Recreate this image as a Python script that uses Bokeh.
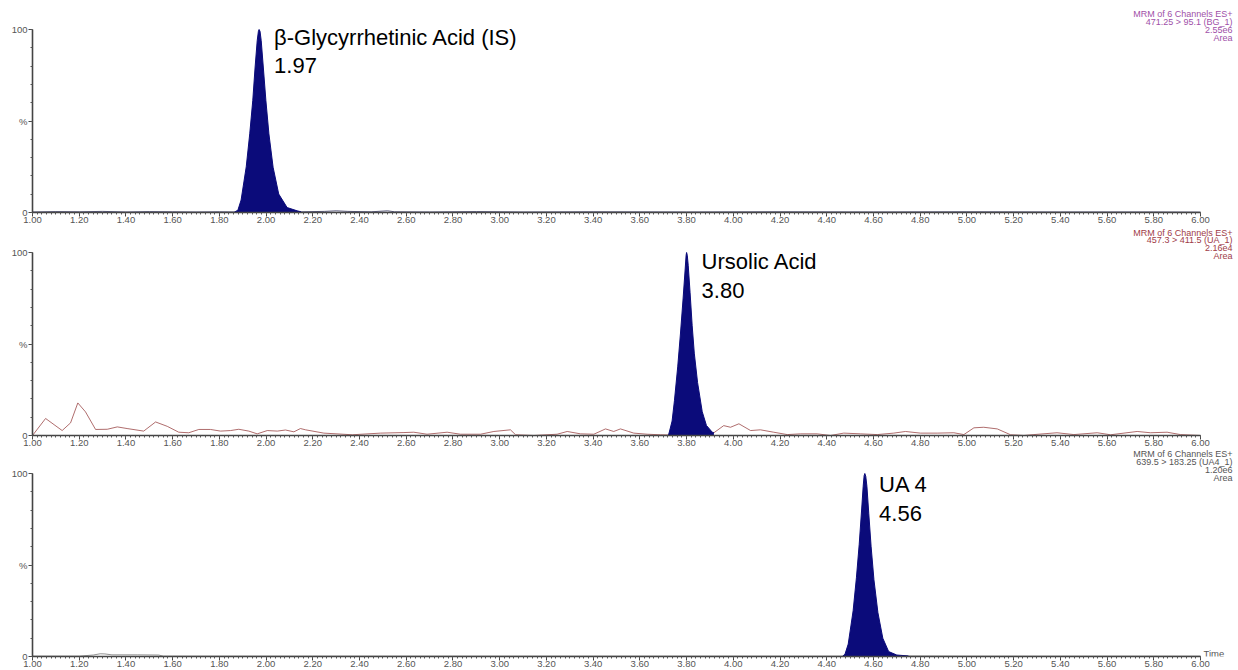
from bokeh.plotting import figure
from bokeh.layouts import column
from bokeh.models import Range1d, SingleIntervalTicker, FixedTicker, NumeralTickFormatter, Label
from bokeh.embed import file_html
from bokeh.resources import INLINE

# ---------------- data ----------------
# Panel 1: beta-Glycyrrhetinic Acid (IS), MRM 471.25 > 95.1
bg_trace_t = [1.00, 1.10, 1.20, 1.30, 1.40, 1.50, 1.60, 1.70, 1.80, 1.87, 2.15, 2.25, 2.30, 2.35, 2.45, 2.52, 2.55, 2.70, 2.90, 3.10, 3.40, 3.80, 4.20, 4.60, 5.00, 5.40, 5.80, 6.00]
bg_trace_y = [0.3, 0.5, 0.4, 0.6, 0.3, 0.5, 0.4, 0.3, 0.4, 0.3, 0.4, 0.6, 0.9, 0.6, 0.4, 0.9, 0.4, 0.3, 0.5, 0.3, 0.4, 0.3, 0.4, 0.3, 0.4, 0.3, 0.3, 0.2]
bg_peak_t = [1.865, 1.879, 1.893, 1.915, 1.930, 1.943, 1.953, 1.962, 1.967, 1.970, 1.974, 1.979, 1.988, 1.999, 2.012, 2.030, 2.054, 2.090, 2.133, 2.15]
bg_peak_y = [0.3, 1.2, 6.8, 25.0, 43.0, 61.3, 79.5, 94.0, 99.0, 100.0, 99.0, 94.0, 79.5, 61.3, 43.0, 24.7, 10.1, 2.7, 0.9, 0.4]

# Panel 2: Ursolic Acid, MRM 457.3 > 411.5
ua_trace_t = [1.00, 1.056, 1.127, 1.163, 1.194, 1.227, 1.27, 1.32, 1.363, 1.405, 1.476, 1.527, 1.577, 1.626, 1.669, 1.712, 1.762, 1.805, 1.848, 1.883, 1.926, 1.962, 2.005, 2.048, 2.083, 2.119, 2.147, 2.169, 2.247, 2.369, 2.490, 2.590, 2.632, 2.689, 2.775, 2.832, 2.918, 2.975, 3.046, 3.068, 3.146, 3.246, 3.289, 3.346, 3.403, 3.453, 3.488, 3.517, 3.574, 3.631, 3.688, 3.72, 3.917, 3.959, 3.988, 4.024, 4.074, 4.116, 4.173, 4.231, 4.288, 4.359, 4.416, 4.473, 4.545, 4.616, 4.687, 4.737, 4.801, 4.873, 4.944, 4.987, 5.030, 5.072, 5.130, 5.187, 5.244, 5.287, 5.386, 5.458, 5.558, 5.615, 5.729, 5.786, 5.857, 5.914, 6.00]
ua_trace_y = [0.0, 9.3, 2.7, 6.9, 17.8, 12.9, 3.3, 3.4, 4.7, 3.8, 2.4, 7.4, 5.0, 1.8, 1.5, 3.3, 3.3, 2.4, 2.7, 3.4, 2.4, 0.9, 2.7, 2.4, 3.0, 2.0, 3.8, 3.1, 1.3, 0.4, 1.3, 1.6, 1.8, 0.7, 1.8, 0.7, 0.7, 2.2, 3.1, 0.4, 0.0, 0.7, 2.2, 0.9, 0.7, 3.6, 2.2, 3.6, 1.3, 0.7, 0.4, 0.3, 1.5, 5.4, 4.5, 6.4, 2.7, 3.1, 1.8, 0.5, 0.9, 0.9, 0.0, 1.3, 0.9, 0.5, 1.3, 2.2, 1.3, 1.3, 1.5, 0.5, 4.2, 4.5, 3.6, 0.4, 0.0, 0.5, 1.5, 0.5, 1.5, 0.4, 2.2, 1.5, 1.8, 0.5, 0.0]
ua_peak_t = [3.72, 3.724, 3.738, 3.748, 3.762, 3.774, 3.785, 3.794, 3.798, 3.80, 3.803, 3.807, 3.815, 3.824, 3.833, 3.847, 3.867, 3.885, 3.91, 3.917]
ua_peak_y = [0.3, 0.8, 7.9, 19.0, 37.5, 56.0, 74.6, 91.0, 98.5, 100.0, 98.5, 93.0, 78.0, 60.0, 45.0, 29.0, 13.0, 5.5, 1.8, 1.5]

# Panel 3: UA 4, MRM 639.5 > 183.25
ua4_trace_t = [1.00, 1.20, 1.26, 1.29, 1.31, 1.34, 1.45, 1.54, 1.56, 1.80, 2.20, 2.60, 3.00, 3.40, 3.80, 4.20, 4.47, 4.75, 5.00, 5.40, 5.80, 6.00]
ua4_trace_y = [0.2, 0.2, 0.8, 1.5, 1.4, 0.9, 0.9, 0.8, 0.2, 0.2, 0.2, 0.2, 0.2, 0.2, 0.2, 0.2, 0.2, 0.3, 0.2, 0.2, 0.2, 0.2]
ua4_peak_t = [4.468, 4.478, 4.492, 4.513, 4.527, 4.539, 4.549, 4.556, 4.560, 4.563, 4.567, 4.572, 4.580, 4.590, 4.602, 4.619, 4.640, 4.665, 4.700, 4.75]
ua4_peak_y = [0.2, 1.2, 6.8, 25.0, 43.0, 61.3, 79.5, 93.0, 98.8, 100.0, 98.5, 93.0, 78.0, 60.0, 42.0, 24.0, 10.0, 2.7, 0.8, 0.3]

compound_names = ["β-Glycyrrhetinic Acid (IS)", "Ursolic Acid", "UA 4"]
retention_times = ["1.97", "3.80", "4.56"]
apex_times = [1.97, 3.80, 4.56]
channel_info = [
    ["MRM of 6 Channels ES+", "471.25 > 95.1 (BG_1)", "2.55e6", "Area"],
    ["MRM of 6 Channels ES+", "457.3 > 411.5 (UA_1)", "2.16e4", "Area"],
    ["MRM of 6 Channels ES+", "639.5 > 183.25 (UA4_1)", "1.20e6", "Area"],
]

# ---------------- styling ----------------
FONT = "Liberation Sans"
PEAK_COLOR = "#0b0b7a"
trace_colors = ["#2a2a55", "#9a4848", "#777777"]
info_colors = ["#a050a8", "#a03c48", "#555555"]
frame_heights = [212, 210, 208]     # frame top sits at the figure's top edge
PX_PER_UNIT_Y = 1.83                # 183 px for 100 %
PX_PER_UNIT_X = 233.6               # 1168 px for 5 min
X_END = 6.0 + 38 / PX_PER_UNIT_X    # frame reaches the window's right edge
info_y = [[108.7, 104.2, 99.8, 95.4], [110.9, 106.6, 102.3, 98.0], [110.9, 106.3, 102.0, 97.6]]
name_y = [[95.6, 80.3], [95.0, 79.2], [94.0, 78.1]]

traces = [(bg_trace_t, bg_trace_y), (ua_trace_t, ua_trace_y), (ua4_trace_t, ua4_trace_y)]
peaks = [(bg_peak_t, bg_peak_y), (ua_peak_t, ua_peak_y), (ua4_peak_t, ua4_peak_y)]

panels = []
for i in range(3):
    fh = frame_heights[i]
    p = figure(frame_width=1206, frame_height=fh,
               x_range=Range1d(1.0, X_END), y_range=Range1d(0, fh / PX_PER_UNIT_Y),
               output_backend="svg", toolbar_location=None,
               min_border_left=32, min_border_right=0,
               min_border_top=0, min_border_bottom=0)
    p.grid.visible = False
    p.outline_line_color = None
    p.background_fill_color = "white"
    p.border_fill_color = "white"

    tt, ty = traces[i]
    p.line(x=tt, y=ty, line_color=trace_colors[i], line_width=0.8)
    pt, py = peaks[i]
    p.varea(x=pt, y1=0, y2=py, fill_color=PEAK_COLOR)
    p.line(x=pt, y=py, line_color=PEAK_COLOR, line_width=1)

    # axes
    xa = p.xaxis[0]
    xa.ticker = SingleIntervalTicker(interval=0.2, num_minor_ticks=10)
    xa.formatter = NumeralTickFormatter(format="0.00")
    xa.bounds = (1.0, 6.0)
    ya = p.yaxis[0]
    ya.ticker = FixedTicker(ticks=[0, 50, 100], minor_ticks=[0, 10, 20, 30, 40, 50, 60, 70, 80, 90, 100])
    ya.major_label_overrides = {50: "%"}
    ya.bounds = (0, 100)
    for ax in (xa, ya):
        ax.axis_line_color = "#444444"
        ax.axis_line_width = 1.6
        ax.major_tick_line_color = "#444444"
        ax.minor_tick_line_color = "#555555"
        ax.major_tick_in = 0
        ax.minor_tick_in = 0
        ax.major_tick_out = 4
        ax.minor_tick_out = 2
        ax.major_label_text_font = FONT
        ax.major_label_text_font_size = "9.5px"
        ax.major_label_text_color = "#555555"
    xa.major_label_standoff = 0
    ya.major_label_standoff = 1

    # compound label
    p.add_layout(Label(x=apex_times[i], y=name_y[i][0], x_offset=15, text=compound_names[i],
                       text_font=FONT, text_font_size="22px", text_color="black",
                       text_baseline="middle", text_align="left"))
    p.add_layout(Label(x=apex_times[i], y=name_y[i][1], x_offset=15, text=retention_times[i],
                       text_font=FONT, text_font_size="22px", text_color="black",
                       text_baseline="middle", text_align="left"))
    # channel info
    for j, line in enumerate(channel_info[i]):
        p.add_layout(Label(x=6.137, y=info_y[i][j], text=line, text_font=FONT,
                           text_font_size="9px", text_color=info_colors[i],
                           text_baseline="middle", text_align="right"))
    if i == 2:
        p.add_layout(Label(x=6.013, y=1.5, text="Time", text_font=FONT,
                           text_font_size="9.5px", text_color="#555555",
                           text_baseline="middle", text_align="left"))
    panels.append(p)

layout = column(*panels, spacing=0)
open("out.html", "w").write(file_html(layout, INLINE))
